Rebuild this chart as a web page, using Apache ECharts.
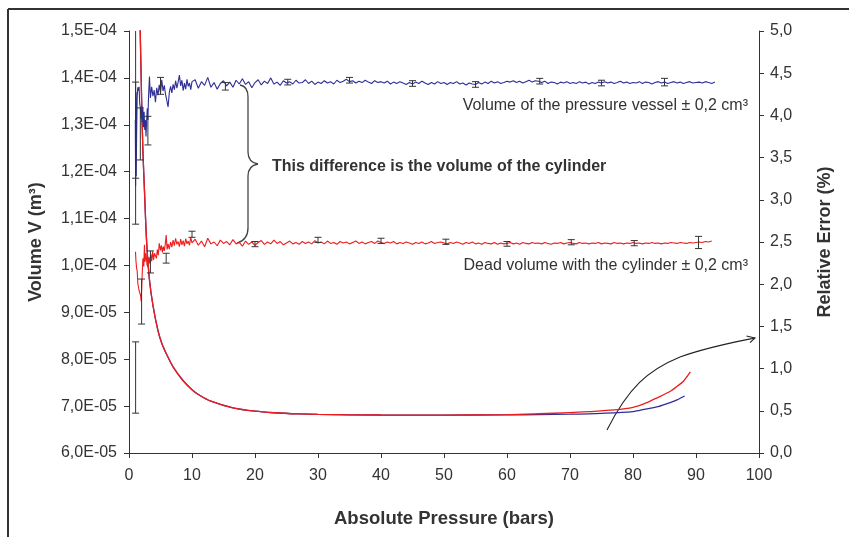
<!DOCTYPE html>
<html><head><meta charset="utf-8">
<script src="https://cdn.jsdelivr.net/npm/echarts@6/dist/echarts.min.js"></script>
<style>html,body{margin:0;padding:0;background:#fff}#c{width:849px;height:537px}</style>
</head><body><div id="c"></div>
<script>
// ---- Data (volumes in cm^3 = 1e-6 m^3, pressure in bars, error in %) ----
const vesselEarlyP = [1.0,1.05,1.1,1.15,1.2,1.3,1.4,1.5,1.6,1.7,1.8,1.9,2.0,2.1,2.2,2.3,2.4,2.5,2.6,2.7,2.8,2.9,3.0,3.1,3.25,3.4,3.6,3.8,4.0,4.2,4.4,4.6,4.8,5.0,5.2,5.4,5.6,5.8,6.0,6.2,6.4,6.6,6.8,7.0,7.2,7.4,7.6,7.8,8.0,8.2,8.4,8.6,8.8,9.0,9.2,9.4,9.6,9.8,10.0];
const vesselEarlyV = [131,117,137,119,127,136,138,137.2,138.1,134.5,133.7,131.3,134,130.5,133.5,129.5,132.8,128.9,131,127.5,130.8,133.5,131,136,140.3,135.7,138.1,136.1,137.4,134.8,137.9,136.3,138.5,136.8,139.6,137.2,138.4,136.5,135.2,133.8,136.9,138.2,136.8,138.6,137.5,139.4,137.8,139.1,140.6,138.3,139.5,137.3,138.9,137.6,139.7,138.2,138.9,137.5,139.2];
const deadEarlyP = [1.03,1.1,1.2,1.3,1.4,1.55,1.7,1.85,1.93,2.05,2.2,2.35,2.45,2.55,2.7,2.85,3.0,3.15,3.3,3.45,3.6,3.75,3.9,4.05,4.2,4.35,4.5,4.65,4.8,5.0,5.15,5.3,5.45,5.6,5.75,5.9,6.05,6.2,6.4,6.6,6.8,7.0,7.2,7.4,7.6,7.8,8.0,8.2,8.4,8.6,8.8,9.0,9.2,9.4,9.6,9.8,10.0];
const deadEarlyV = [102.9,101,99.5,98.8,96.2,95,94.2,93.5,92.3,96.5,101.5,99.8,104.4,100.8,102.6,100.2,99.7,101.8,100.4,102.5,100.9,103.0,101.2,102.6,102.9,101.5,103.4,102.2,104.7,103.2,104.3,102.8,104.0,103.1,104.5,106.5,103.4,104.6,103.5,105.0,103.9,105.4,104.2,105.8,104.5,105.1,104.0,105.6,104.4,105.3,104.1,105.7,104.6,105.2,104.3,106.0,104.8];
const mainP = [10.5,11,11.5,12,12.5,13,13.5,14,14.5,15,15.5,16,16.5,17,17.5,18,18.5,19,19.5,20,20.5,21,21.5,22,22.5,23,23.5,24,24.5,25,25.5,26,26.5,27,27.5,28,28.5,29,29.5,30,30.5,31,31.5,32,32.5,33,33.5,34,34.5,35,35.5,36,36.5,37,37.5,38,38.5,39,39.5,40,40.5,41,41.5,42,42.5,43,43.5,44,44.5,45,45.5,46,46.5,47,47.5,48,48.5,49,49.5,50,50.5,51,51.5,52,52.5,53,53.5,54,54.5,55,55.5,56,56.5,57,57.5,58,58.5,59,59.5,60,60.5,61,61.5,62,62.5,63,63.5,64,64.5,65,65.5,66,66.5,67,67.5,68,68.5,69,69.5,70,70.5,71,71.5,72,72.5,73,73.5,74,74.5,75,75.5,76,76.5,77,77.5,78,78.5,79,79.5,80,80.5,81,81.5,82,82.5,83,83.5,84,84.5,85,85.5,86,86.5,87,87.5,88,88.5,89,89.5,90,90.5,91,91.5,92,92.5,93];
const vesselMainV = [139.6,137.8,139.2,138.4,140.1,138.0,139.0,137.6,138.8,139.4,
138.3,139.1,138.0,139.5,138.7,139.8,138.6,139.2,137.9,139.0,
139.6,138.5,139.3,138.8,140.0,138.7,139.1,138.4,139.4,138.9,
139.2,138.7,139.5,138.9,139.0,139.6,138.8,139.3,138.6,139.1,
138.8,139.4,138.9,139.2,138.7,139.5,139.0,139.3,139.7,139.2,
139.4,138.9,139.3,139.0,139.5,139.1,138.8,139.4,139.0,139.2,
138.9,139.3,138.7,139.1,138.8,139.2,138.9,138.6,139.0,138.7,
139.1,138.8,139.3,138.9,138.6,139.0,138.7,139.2,138.8,139.0,
138.6,139.0,138.8,139.2,138.7,138.9,138.5,138.9,138.7,138.6,
139.0,138.7,139.1,138.8,139.3,138.9,139.2,138.8,139.0,139.3,
139.1,139.4,139.0,139.3,138.9,139.2,139.5,139.1,139.4,139.3,
139.0,139.3,138.8,139.1,139.0,138.7,139.1,138.9,139.2,138.8,
139.0,138.8,139.2,138.9,139.1,138.7,139.0,138.8,139.1,138.9,
139.2,138.9,139.1,138.8,139.0,139.3,138.9,139.1,138.8,139.0,
138.9,139.2,138.8,139.1,139.0,138.7,139.0,139.2,138.9,139.1,
138.8,139.0,139.2,138.9,139.1,138.8,139.0,139.2,138.9,139.0,
139.1,138.9,139.2,139.0,138.8,139.1];
const deadMainV = [105.6,104.3,105.2,104.0,105.8,104.6,105.0,104.2,105.4,104.7,
105.1,104.4,105.5,104.6,104.9,104.1,105.2,104.5,105.0,104.3,
104.9,105.3,104.5,105.0,104.6,105.4,104.7,105.1,104.4,104.8,
105.2,104.6,104.9,104.5,105.1,104.7,105.0,104.6,105.3,104.8,
105.0,104.6,105.2,104.7,104.9,104.5,105.1,104.8,105.0,104.6,
104.9,105.2,104.7,105.0,104.6,104.9,105.1,104.7,105.2,104.9,
104.7,105.0,104.8,105.1,104.6,104.9,104.7,105.0,104.8,104.5,
104.9,104.7,105.0,104.6,104.8,105.1,104.7,104.9,105.0,104.8,
104.6,104.9,104.7,105.0,104.8,104.5,104.9,104.7,105.0,104.6,
104.8,104.5,104.9,104.7,104.6,104.9,104.5,104.8,104.6,104.7,
104.9,104.6,104.8,104.5,104.9,104.7,104.6,104.9,104.7,104.8,
104.6,104.9,104.7,104.5,104.8,104.7,104.9,104.6,104.8,104.9,
104.7,104.6,104.9,104.7,104.8,104.6,104.8,104.7,104.9,104.6,
104.8,104.7,104.6,104.9,104.7,104.8,104.6,104.8,104.7,104.9,
104.7,104.8,104.6,104.8,104.7,104.9,104.7,104.8,104.6,104.8,
104.7,104.9,104.8,104.7,104.9,104.8,104.7,104.9,104.8,104.9,
105.0,104.9,105.1,105.0,105.2];
// error bars (pressure, low, high) in cm^3
const vesselBarP = [1.05,1.05,1.8,3.0,5.0,15.3,25.2,35,45,55,65.2,75,85];
const vesselBarLo = [108.8,118.6,122.5,125.7,136.5,137.4,138.5,138.9,138.2,138.0,138.7,138.3,138.3];
const vesselBarHi = [139.1,165,133.6,131.8,140.1,139.0,139.7,140.1,139.4,139.2,139.9,139.5,139.9];
const deadBarP = [1.05,2.0,3.4,5.9,10,20,30,40,50.3,60,70.2,80.2,90.4];
const deadBarLo = [68.5,87.5,98.4,100.5,106.0,104.0,104.9,104.7,104.5,104.1,104.4,104.2,103.6];
const deadBarHi = [83.7,97.1,103.1,102.6,107.3,105.1,106.0,105.8,105.6,105.1,105.5,105.3,106.2];
// relative error (%)
const errDeadP = [1.6,1.78,2.0,2.2,2.46,2.8,3.25,3.8,4.57,5.2,5.9,7,8.5,10,11.2,13,16.5,20,23,27,30,40,50,60,65,70,73,77,80,82,84,86,87,88,89.1];
const errDeadV = [5.6,5.0,4.2,3.6,3.1,2.5,2.05,1.75,1.46,1.3,1.18,1.02,0.865,0.75,0.684,0.614,0.535,0.495,0.477,0.463,0.457,0.45,0.449,0.455,0.465,0.478,0.49,0.51,0.54,0.59,0.66,0.735,0.79,0.85,0.96];
const errVesselP = [1.6,1.78,2.0,2.2,2.46,2.8,3.25,3.8,4.57,5.2,5.9,7,8.5,10,11.2,13,16.5,20,23,27,30,40,50,60,65,70,75,80,82,84,86,87,88.2];
const errVesselV = [5.6,5.0,4.2,3.6,3.1,2.5,2.05,1.75,1.46,1.3,1.18,1.02,0.865,0.75,0.684,0.614,0.535,0.495,0.477,0.463,0.457,0.45,0.449,0.452,0.455,0.46,0.47,0.49,0.52,0.55,0.6,0.63,0.675];
const xTicks = [0,10,20,30,40,50,60,70,80,90,100];

// ---- build ----
const BLUE = '#2e2e98', RED = '#ee1c1c', INK = '#333';
const FONT = '"Liberation Sans", Arial, sans-serif';
const pairs = (xs, ys) => xs.map((x, i) => [x, ys[i]]);
const vesselLine = pairs(vesselEarlyP, vesselEarlyV).concat(pairs(mainP, vesselMainV));
const deadLine = pairs(deadEarlyP, deadEarlyV).concat(pairs(mainP.slice(0, deadMainV.length), deadMainV));
const bars = vesselBarP.map((x, i) => [x, vesselBarLo[i], vesselBarHi[i]])
  .concat(deadBarP.map((x, i) => [x, deadBarLo[i], deadBarHi[i]]));

function fmtSci(v) {
  const s = (v * 1e-6).toExponential(1);
  const [m, e] = s.split('e');
  const n = parseInt(e, 10);
  return m.replace('.', ',') + 'E' + (n < 0 ? '-' : '+') + String(Math.abs(n)).padStart(2, '0');
}
function bez(x1, y1, cpx1, cpy1, cpx2, cpy2, x2, y2, stroke, w) {
  return {type: 'bezierCurve', shape: {x1, y1, cpx1, cpy1, cpx2, cpy2, x2, y2}, style: {stroke, fill: null, lineWidth: w}};
}
function seg(x1, y1, x2, y2, stroke, w) {
  return {type: 'line', shape: {x1, y1, x2, y2}, style: {stroke, lineWidth: w}};
}

const chart = echarts.init(document.getElementById('c'), null, {renderer: 'canvas'});
const labelStyle = {color: INK, fontSize: 16, fontFamily: FONT};
const BR = '#444', AR = '#222';
chart.setOption({
  animation: false,
  backgroundColor: '#fff',
  grid: {left: 129, right: 90, top: 31, bottom: 84},
  xAxis: {
    type: 'value', min: 0, max: 100, interval: 10,
    axisLine: {show: true, lineStyle: {color: INK, width: 1}},
    axisTick: {show: true, length: 5, lineStyle: {color: INK}},
    axisLabel: Object.assign({margin: 15, formatter: v => xTicks.includes(v) ? String(v) : ''}, labelStyle),
    splitLine: {show: false}
  },
  yAxis: [{
    type: 'value', min: 60, max: 150, interval: 10, position: 'left',
    axisLine: {show: true, lineStyle: {color: INK, width: 1}},
    axisTick: {show: true, length: 5, lineStyle: {color: INK}},
    axisLabel: Object.assign({margin: 12, formatter: fmtSci}, labelStyle),
    splitLine: {show: false}
  }, {
    type: 'value', min: 0, max: 5, interval: 0.5, position: 'right',
    axisLine: {show: true, lineStyle: {color: INK, width: 1}},
    axisTick: {show: true, length: 5, lineStyle: {color: INK}},
    axisLabel: Object.assign({margin: 11, formatter: v => v.toFixed(1).replace('.', ',')}, labelStyle),
    splitLine: {show: false}
  }],
  series: [
    {type: 'line', name: 'err vessel', yAxisIndex: 1, data: pairs(errVesselP, errVesselV), showSymbol: false,
     smooth: 0.3, lineStyle: {color: BLUE, width: 1.3}, clip: true, z: 2},
    {type: 'line', name: 'err dead', yAxisIndex: 1, data: pairs(errDeadP, errDeadV), showSymbol: false,
     smooth: 0.3, lineStyle: {color: RED, width: 1.3}, clip: true, z: 3},
    {type: 'line', name: 'vessel', yAxisIndex: 0, data: vesselLine, showSymbol: false,
     lineStyle: {color: BLUE, width: 1.1}, clip: true, z: 4},
    {type: 'line', name: 'dead', yAxisIndex: 0, data: deadLine, showSymbol: false,
     lineStyle: {color: RED, width: 1.1}, clip: true, z: 4},
    {type: 'custom', yAxisIndex: 0, data: bars, clip: true, z: 5,
     renderItem: function (params, api) {
       const x = api.value(0);
       const a = api.coord([x, api.value(1)]);
       const b = api.coord([x, api.value(2)]);
       const hw = 3.5;
       const st = {stroke: INK, lineWidth: 1};
       return {type: 'group', children: [
         {type: 'line', shape: {x1: a[0], y1: a[1], x2: b[0], y2: b[1]}, style: st},
         {type: 'line', shape: {x1: a[0] - hw, y1: a[1], x2: a[0] + hw, y2: a[1]}, style: st},
         {type: 'line', shape: {x1: b[0] - hw, y1: b[1], x2: b[0] + hw, y2: b[1]}, style: st}
       ]};
     }}
  ],
  graphic: [
    seg(8, 9, 849, 9, INK, 2),
    seg(8, 9, 8, 537, INK, 2),
    // curly brace
    bez(240, 85, 246, 86, 248, 90, 248, 97, BR, 1.3),
    seg(248, 97, 248, 152, BR, 1.3),
    bez(248, 152, 248, 160, 252, 163, 258, 164, BR, 1.3),
    bez(258, 164, 252, 165, 248, 168, 248, 176, BR, 1.3),
    seg(248, 176, 248, 228, BR, 1.3),
    bez(248, 228, 248, 236, 244, 241, 237, 243, BR, 1.3),
    // arrow
    bez(607, 430, 628, 388, 648, 370, 680, 357, AR, 1.1),
    bez(680, 357, 708, 347, 730, 343, 755, 338, AR, 1.1),
    {type: 'polyline', shape: {points: [[746.5, 336], [755, 338], [750, 342.7]]}, style: {stroke: AR, fill: null, lineWidth: 1.1}},
    {type: 'text', x: 272, y: 167, style: {text: 'This difference is the volume of the cylinder', font: 'bold 16px ' + FONT, fill: INK, verticalAlign: 'middle'}},
    {type: 'text', x: 748, y: 106, style: {text: 'Volume of the pressure vessel \u00b1 0,2 cm\u00b3', font: '16px ' + FONT, fill: INK, align: 'right', verticalAlign: 'middle'}},
    {type: 'text', x: 748, y: 266, style: {text: 'Dead volume with the cylinder \u00b1 0,2 cm\u00b3', font: '16px ' + FONT, fill: INK, align: 'right', verticalAlign: 'middle'}},
    {type: 'text', x: 444, y: 519, style: {text: 'Absolute Pressure (bars)', font: 'bold 18.5px ' + FONT, fill: INK, align: 'center', verticalAlign: 'middle'}},
    {type: 'text', x: 36, y: 242, rotation: Math.PI / 2, style: {text: 'Volume V (m\u00b3)', font: 'bold 18px ' + FONT, fill: INK, align: 'center', verticalAlign: 'middle'}},
    {type: 'text', x: 825, y: 242, rotation: Math.PI / 2, style: {text: 'Relative Error (%)', font: 'bold 18px ' + FONT, fill: INK, align: 'center', verticalAlign: 'middle'}}
  ]
});
</script></body></html>
